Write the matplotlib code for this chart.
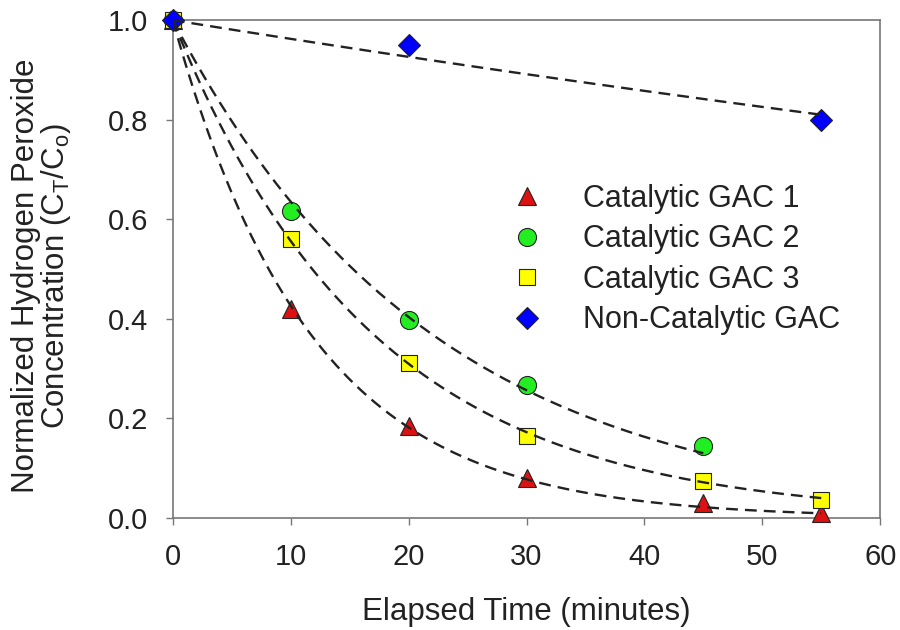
import numpy as np
import matplotlib
matplotlib.use("Agg")
import matplotlib.pyplot as plt

plt.rcParams['font.family'] = ['Liberation Sans', 'DejaVu Sans']
plt.rcParams['mathtext.fontset'] = 'custom'
plt.rcParams['mathtext.rm'] = 'Liberation Sans'
plt.rcParams['mathtext.it'] = 'Liberation Sans'

# Data
t_gac1 = [0, 10, 20, 30, 45, 55]
c_gac1 = [1.0, 0.42, 0.185, 0.08, 0.03, 0.01]
t_gac2 = [0, 10, 20, 30, 45]
c_gac2 = [1.0, 0.617, 0.397, 0.267, 0.145]
t_gac3 = [0, 10, 20, 30, 45, 55]
c_gac3 = [1.0, 0.56, 0.312, 0.165, 0.075, 0.035]
t_non = [0, 20, 55]
c_non = [1.0, 0.95, 0.80]

labels = ["Catalytic GAC 1", "Catalytic GAC 2", "Catalytic GAC 3", "Non-Catalytic GAC"]
series = [(t_gac1, c_gac1), (t_gac2, c_gac2), (t_gac3, c_gac3), (t_non, c_non)]
markers = ['^', 'o', 's', 'D']
colors = ['#dd1111', '#22ee22', '#ffff00', '#0000ff']
sizes = [13, 13, 11.5, 11.5]

def fit_k(t, c):
    t = np.asarray(t, float); c = np.asarray(c, float)
    ks = np.linspace(0.0005, 0.2, 40000)
    sse = ((np.exp(-np.outer(ks, t)) - c) ** 2).sum(axis=1)
    return ks[np.argmin(sse)]

fig = plt.figure(figsize=(9, 6.3), dpi=100)
ax = fig.add_axes([0.192, 0.178, 0.786, 0.79])

for (t, c), m, col, s, lab in zip(series, markers, colors, sizes, labels):
    ax.plot(t, c, linestyle='none', marker=m, markersize=s, markerfacecolor=col,
            markeredgecolor='#222222', markeredgewidth=0.8, label=lab, zorder=3,
            clip_on=False)
for (t, c) in series:
    k = fit_k(t, c)
    tt = np.linspace(0, max(t), 200)
    ax.plot(tt, np.exp(-k * tt), linestyle=(0, (5, 3)), color='#222222', lw=1.7, zorder=4)

ax.set_xlim(0, 60)
ax.set_ylim(0, 1.0)
ax.set_xticks([0, 10, 20, 30, 40, 50, 60])
ax.set_yticks([0.0, 0.2, 0.4, 0.6, 0.8, 1.0])
ax.set_yticklabels(['0.0', '0.2', '0.4', '0.6', '0.8', '1.0'])
ax.tick_params(direction='out', length=5, width=1, colors='#777777', labelcolor='#222222',
               labelsize=21, pad=13, top=False, right=False)
for sp in ax.spines.values():
    sp.set_color('#777777')
    sp.set_linewidth(1.2)

ax.set_xlabel('Elapsed Time (minutes)', fontsize=22.5, color='#222222', labelpad=19)
ax.set_ylabel('Normalized Hydrogen Peroxide\nConcentration (C$_T$/C$_o$)', fontsize=22.5,
              color='#222222', linespacing=0.95, va='center')
ax.yaxis.set_label_coords(-0.185, 0.486)

leg = ax.legend(loc='center left', bbox_to_anchor=(0.457, 0.519), frameon=False, fontsize=22,
                handlelength=2.0, handletextpad=0.83, labelspacing=0.345, borderpad=0,
                borderaxespad=0)
for txt in leg.get_texts():
    txt.set_color('#222222')

fig.savefig('out.png', dpi=100)
